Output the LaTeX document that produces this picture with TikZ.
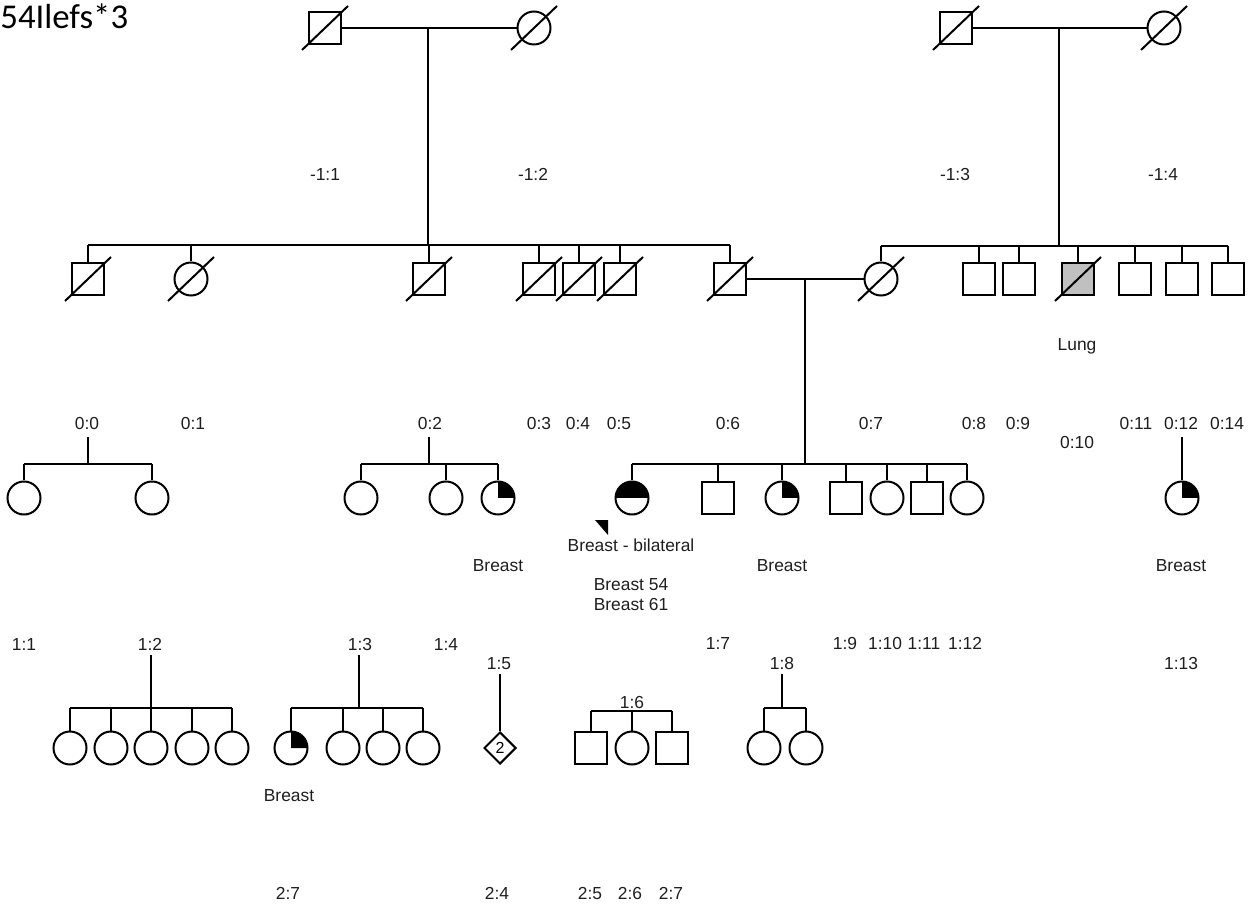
\documentclass[tikz,border=0pt]{standalone}
\usepackage{fontspec}
\setmainfont{Liberation Sans}
\newfontfamily\titlefont{Carlito}
\usetikzlibrary{calc,shapes.geometric}
\definecolor{aff}{RGB}{192,192,192}
\definecolor{txt}{RGB}{30,30,30}
\tikzset{
  sq/.style={draw, line width=1pt, minimum size=16pt, inner sep=0pt, fill=white},
  ci/.style={draw, circle, line width=1pt, minimum size=16.5pt, inner sep=0pt, fill=white},
  di/.style={draw, diamond, line width=1pt, minimum size=16pt, inner sep=0pt, fill=white, font=\fontsize{8}{9}\selectfont},
  ln/.style={line width=1.3pt},
  thinln/.style={line width=0.7pt},
  slashln/.style={line width=1pt},
  lab/.style={font=\fontsize{8.7}{10}\selectfont, inner sep=0pt, anchor=base, text=txt},
}
\newcommand\decslash[1]{\draw[slashln] ($(#1.center)+(-23,22)$) -- ($(#1.center)+(23,-22)$);}
\newcommand\qfill[1]{\fill (#1.center) -- ++(0pt,8.25pt) arc[start angle=90,end angle=0,radius=8.25pt] -- cycle;}
\newcommand\halffill[1]{\fill (#1.center) -- ++(8.25pt,0pt) arc[start angle=0,end angle=180,radius=8.25pt] -- cycle;}
\begin{document}
\begin{tikzpicture}[x=0.5pt,y=-0.5pt]
\useasboundingbox (0,0) rectangle (1257,908);
\node[anchor=base west, inner sep=0pt, font=\titlefont\fontsize{17.4}{20}\selectfont] (title) at (0,29) {54Ilefs*3};

% ---------- generation -1 ----------
\coordinate (m1) at (428,28);
\coordinate (m2) at (1059,28);
\coordinate (s1) at (0,245);
\coordinate (s2) at (0,246);
\draw[ln] (m1) -- (m1 |- s1);
\draw[ln] (m2) -- (m2 |- s2);
\node[sq] (p1) at (325,28) {};
\node[ci] (p2) at (534,28) {};
\node[sq] (p3) at (956,28) {};
\node[ci] (p4) at (1164,28) {};
\draw[ln] (p1) -- (p2);
\draw[ln] (p3) -- (p4);

\node[lab] (lm11) at (325,181) {-1:1};
\node[lab] (lm12) at (533,181) {-1:2};
\node[lab] (lm13) at (955,181) {-1:3};
\node[lab] (lm14) at (1163,181) {-1:4};

% ---------- generation 0 ----------
\node[sq] (g1) at (88,279) {};
\node[ci] (g2) at (191,279) {};
\node[sq] (g3) at (429,279) {};
\node[sq] (g4) at (539,279) {};
\node[sq] (g5) at (579,279) {};
\node[sq] (g6) at (620,279) {};
\node[sq] (g7) at (730,279) {};
\node[ci] (h1) at (881,279) {};
\node[sq] (h2) at (979,279) {};
\node[sq] (h3) at (1019,279) {};
\node[sq, fill=aff] (h4) at (1078,279) {};
\node[sq] (h5) at (1135,279) {};
\node[sq] (h6) at (1182,279) {};
\node[sq] (h7) at (1228,279) {};

\draw[ln] (g1.north |- s1) -- (g7.north |- s1);
\foreach \n in {g1,g2,g3,g4,g5,g6,g7} {\draw[ln] (\n.north) -- (\n.north |- s1);}
\draw[ln] (h1.north |- s2) -- (h7.north |- s2);
\foreach \n in {h1,h2,h3,h4,h5,h6,h7} {\draw[ln] (\n.north) -- (\n.north |- s2);}
\foreach \n in {p1,p2,p3,p4,g1,g2,g3,g4,g5,g6,g7,h1,h4} {\decslash{\n}}

\draw[thinln] (g7) -- (h1);
\coordinate (m3) at (805,279);
\coordinate (s3) at (0,464);
\draw[ln] (m3) -- (m3 |- s3);

\node[lab] (lung) at (1077,351) {Lung};

\node[lab] (l00) at (87,430) {0:0};
\node[lab] (l01) at (193,430) {0:1};
\node[lab] (l02) at (430,430) {0:2};
\node[lab] (l03) at (539,430) {0:3};
\node[lab] (l04) at (578,430) {0:4};
\node[lab] (l05) at (619,430) {0:5};
\node[lab] (l06) at (728,430) {0:6};
\node[lab] (l07) at (871,430) {0:7};
\node[lab] (l08) at (974,430) {0:8};
\node[lab] (l09) at (1018,430) {0:9};
\node[lab] (l010) at (1077,449) {0:10};
\node[lab] (l011) at (1136,430) {0:11};
\node[lab] (l012) at (1181,430) {0:12};
\node[lab] (l014) at (1227,430) {0:14};

% ---------- generation 1 ----------
% family 0:0
\node[ci] (a1) at (24,498) {};
\node[ci] (a2) at (152,498) {};
\coordinate (fa) at (88,437);
\draw[ln] (fa) -- (fa |- s3);
\draw[ln] (a1.north |- s3) -- (a2.north |- s3);
\foreach \n in {a1,a2} {\draw[ln] (\n.north) -- (\n.north |- s3);}
% family 0:2
\node[ci] (b1) at (361,498) {};
\node[ci] (b2) at (446,498) {};
\node[ci] (b3) at (498,498) {};
\coordinate (fb) at (429,437);
\draw[ln] (fb) -- (fb |- s3);
\draw[ln] (b1.north |- s3) -- (b3.north |- s3);
\foreach \n in {b1,b2,b3} {\draw[ln] (\n.north) -- (\n.north |- s3);}
\qfill{b3}
% family 0:6 x 0:7
\node[ci] (c1) at (632,498) {};
\node[sq] (c2) at (718,498) {};
\node[ci] (c3) at (782,498) {};
\node[sq] (c4) at (846,498) {};
\node[ci] (c5) at (887,498) {};
\node[sq] (c6) at (927,498) {};
\node[ci] (c7) at (967,498) {};
\draw[ln] (c1.north |- s3) -- (c7.north |- s3);
\foreach \n in {c1,c2,c3,c4,c5,c6,c7} {\draw[ln] (\n.north) -- (\n.north |- s3);}
\halffill{c1}
\qfill{c3}
\fill (595,520) -- (608,520) -- (608,535) -- cycle;
% family 0:12
\node[ci] (d1) at (1182,498) {};
\coordinate (fd) at (1182,437);
\draw[ln] (fd) -- (d1.north);
\qfill{d1}

\node[lab] (br1) at (498,571) {Breast};
\node[lab] (br2) at (631,551) {Breast - bilateral};
\node[lab] (br3) at (631,590) {Breast 54};
\node[lab] (br4) at (631,610) {Breast 61};
\node[lab] (br5) at (782,571) {Breast};
\node[lab] (br6) at (1181,571) {Breast};

\node[lab] (l11) at (24,650) {1:1};
\node[lab] (l12) at (150,650) {1:2};
\node[lab] (l13) at (360,650) {1:3};
\node[lab] (l14) at (446,650) {1:4};
\node[lab] (l15) at (499,669) {1:5};
\node[lab] (l16) at (632,708) {1:6};
\node[lab] (l17) at (718,649) {1:7};
\node[lab] (l18) at (782,669) {1:8};
\node[lab] (l19) at (845,649) {1:9};
\node[lab] (l110) at (885,649) {1:10};
\node[lab] (l111) at (924,649) {1:11};
\node[lab] (l112) at (965,649) {1:12};
\node[lab] (l113) at (1181,669) {1:13};

% ---------- generation 2 ----------
\coordinate (s4) at (0,708);
\coordinate (s6) at (0,711);
% family 1:2
\node[ci] (e1) at (70,748) {};
\node[ci] (e2) at (111,748) {};
\node[ci] (e3) at (151,748) {};
\node[ci] (e4) at (192,748) {};
\node[ci] (e5) at (232,748) {};
\coordinate (fe) at (151,655);
\draw[ln] (fe) -- (e3.north);
\draw[ln] (e1.north |- s4) -- (e5.north |- s4);
\foreach \n in {e1,e2,e4,e5} {\draw[ln] (\n.north) -- (\n.north |- s4);}
% family 1:3
\node[ci] (k1) at (291,748) {};
\node[ci] (k2) at (343,748) {};
\node[ci] (k3) at (383,748) {};
\node[ci] (k4) at (423,748) {};
\coordinate (fk) at (359,655);
\draw[ln] (fk) -- (fk |- s4);
\draw[ln] (k1.north |- s4) -- (k4.north |- s4);
\foreach \n in {k1,k2,k3,k4} {\draw[ln] (\n.north) -- (\n.north |- s4);}
\qfill{k1}
\node[lab] (br7) at (289,801) {Breast};
% 1:5
\node[di] (q1) at (500,748) {2};
\coordinate (fq) at (500,674);
\draw[ln] (fq) -- (q1.north);
% family 1:6
\node[sq] (r1) at (591,748) {};
\node[ci] (r2) at (632,748) {};
\node[sq] (r3) at (672,748) {};
\draw[ln] (r1.north |- s6) -- (r3.north |- s6);
\foreach \n in {r1,r2,r3} {\draw[ln] (\n.north) -- (\n.north |- s6);}
% family 1:8
\node[ci] (u1) at (764,748) {};
\node[ci] (u2) at (806,748) {};
\coordinate (fu) at (782,674);
\draw[ln] (fu) -- (fu |- s4);
\draw[ln] (u1.north |- s4) -- (u2.north |- s4);
\foreach \n in {u1,u2} {\draw[ln] (\n.north) -- (\n.north |- s4);}

\node[lab] (l27a) at (288,899) {2:7};
\node[lab] (l24) at (497,899) {2:4};
\node[lab] (l25) at (590,899) {2:5};
\node[lab] (l26) at (630,899) {2:6};
\node[lab] (l27b) at (671,899) {2:7};
\end{tikzpicture}
\end{document}
